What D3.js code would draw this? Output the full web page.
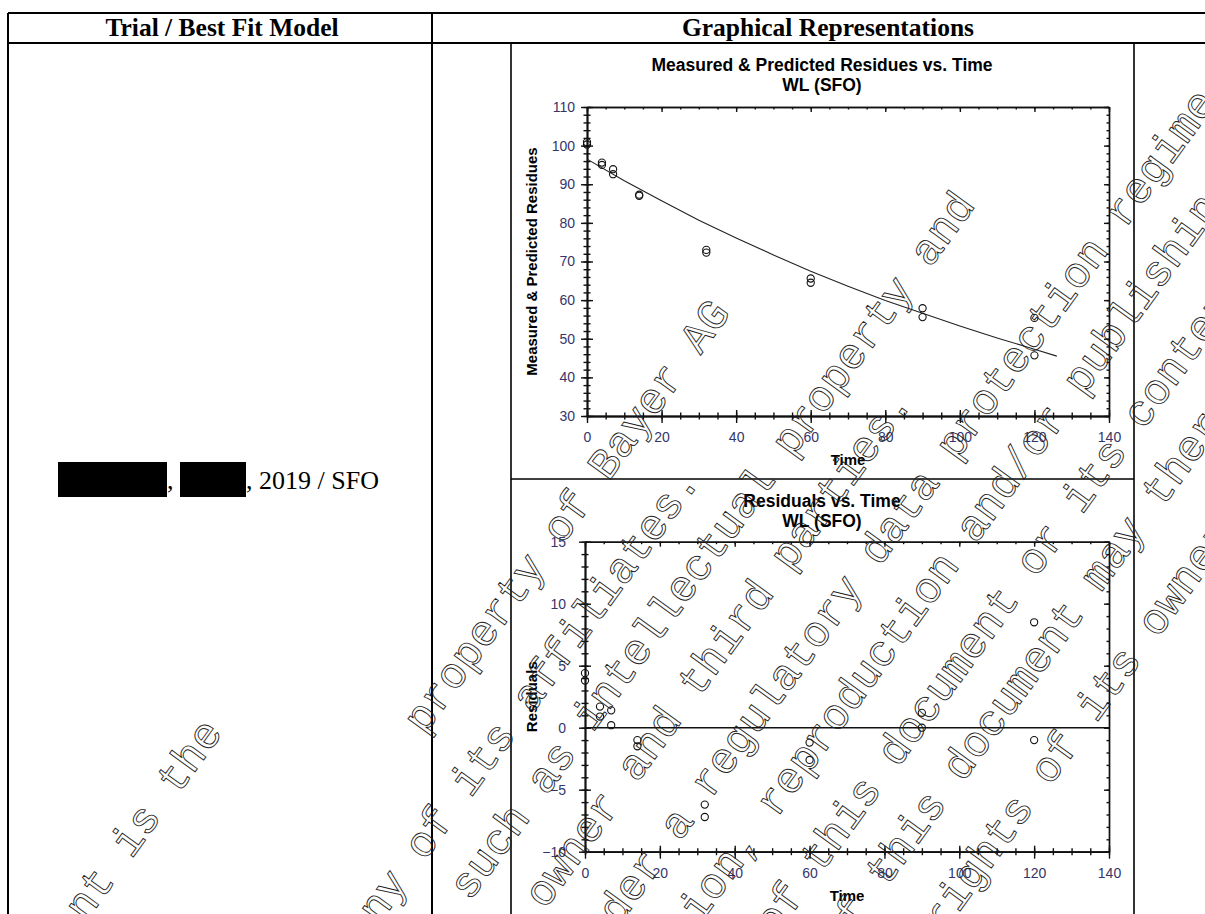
<!DOCTYPE html>
<html>
<head>
<meta charset="utf-8">
<script src="https://cdn.jsdelivr.net/npm/d3@7"></script>
<style>
body { margin: 0; background: #fff; }
svg { display: block; }
</style>
</head>
<body>
<div id="graph"></div>
<script>
// measured residues, two replicates per sampling time
const obsTime = [0, 0, 4, 4, 7, 7, 14, 14, 32, 32, 60, 60, 90, 90, 120, 120];
const obsResidue = [100.9, 100.3, 95.6, 95.0, 93.9, 92.6, 87.3, 87.0, 73.0, 72.3, 65.6, 64.5, 57.9, 55.6, 55.4, 45.7];

// SFO fit
const fitTime = [0, 10, 20, 30, 40, 50, 60, 70, 80, 90, 100, 110, 120, 126];
const fitResidue = [96.5, 90.9, 85.7, 80.7, 76.1, 71.7, 67.5, 63.6, 59.9, 56.6, 53.3, 50.2, 47.3, 45.5];

// residuals
const resTime = [0, 0, 4, 4, 7, 7, 14, 14, 32, 32, 60, 60, 90, 90, 120, 120];
const residual = [4.4, 3.8, 1.7, 0.9, 1.4, 0.2, -1.0, -1.5, -6.2, -7.2, -1.2, -2.6, 1.2, 0.0, 8.5, -1.0];

const xTicks = [0, 20, 40, 60, 80, 100, 120, 140];
const topYTicks = [30, 40, 50, 60, 70, 80, 90, 100, 110];
const botYTicks = [-10, -5, 0, 5, 10, 15];

const headers = ["Trial / Best Fit Model", "Graphical Representations"];
const trialText = ", 2019 / SFO";

// watermark lines (outlined), each anchored on the centre of one word
const wmLines = [
    { text: "This document is the", word: " is ", cx: 138, cy: 832 },
    { text: "property of Bayer AG", word: "Bayer", cx: 638, cy: 423 },
    { text: "and/or any of its affiliates.", word: "affiliates", cx: 600, cy: 602 },
    { text: "such as intellectual property and", word: "intellectual", cx: 676, cy: 600 },
    { text: "copy rights of the owner and third parties.", word: "third", cx: 728, cy: 640 },
    { text: "Furthermore, this document may fall under a regulatory data protection regime.", word: "protection", cx: 1024, cy: 350 },
    { text: "Consequently, any publication, distribution, reproduction and/or publishing", word: "and/or", cx: 1013, cy: 475 },
    { text: "and any commercial exploitation and use of this document or its contents", word: "or its", cx: 1073, cy: 509 },
    { text: "without the permission of the owner of this document may therefore", word: "may", cx: 1115, cy: 555 },
    { text: "be prohibited and violate the rights of its owner.", word: "rights", cx: 980, cy: 865 }
];

const W = 1205, H = 914;
const svg = d3.select("#graph").append("svg")
    .attr("width", W)
    .attr("height", H);

// ---- table ----
const tbl = svg.append("g");
const tableLines = [
    [8, 13, 1215, 13], [8, 43, 1215, 43],
    [8, 13, 8, 920], [432, 13, 432, 920]
];
tbl.selectAll("line").data(tableLines).enter().append("line")
    .attr("x1", d => d[0]).attr("y1", d => d[1])
    .attr("x2", d => d[2]).attr("y2", d => d[3])
    .style("stroke", "#000").style("stroke-width", 2);

tbl.selectAll("text.hdr").data(headers).enter().append("text")
    .attr("class", "hdr")
    .attr("x", (d, i) => i == 0 ? 222 : 828)
    .attr("y", 36)
    .attr("text-anchor", "middle")
    .style("font-family", "'Liberation Serif', 'Times New Roman', serif")
    .style("font-weight", "bold")
    .style("font-size", "25.5px")
    .text(d => d);

// redacted names
tbl.append("rect").attr("x", 58).attr("y", 462).attr("width", 109).attr("height", 35).style("fill", "#000");
tbl.append("text").attr("x", 167).attr("y", 489)
    .style("font-family", "'Liberation Serif', serif").style("font-size", "26px").text(",");
tbl.append("rect").attr("x", 180).attr("y", 462).attr("width", 66).attr("height", 35).style("fill", "#000");
tbl.append("text").attr("x", 246).attr("y", 489)
    .style("font-family", "'Liberation Serif', serif").style("font-size", "26px").text(trialText);

// picture frame in the right cell
const frame = svg.append("g");
frame.append("line").attr("x1", 511).attr("y1", 43).attr("x2", 511).attr("y2", 920);
frame.append("line").attr("x1", 1134).attr("y1", 43).attr("x2", 1134).attr("y2", 920);
frame.append("line").attr("x1", 511).attr("y1", 479).attr("x2", 1134).attr("y2", 479);
frame.selectAll("line").style("stroke", "#000").style("stroke-width", 1.6);

// ---- charts ----
function minorsOf(domain, step) {
    let out = [];
    for (let v = domain[0]; v <= domain[1] + 1e-9; v += step) out.push(+v.toFixed(4));
    return out;
}

function drawChart(o) {
    const g = svg.append("g");
    const x = d3.scaleLinear().domain([0, 140]).range([o.x0, o.x1]);
    const y = d3.scaleLinear().domain(o.yDomain).range([o.y0, o.y1]);
    const xMinor = minorsOf([0, 140], 5);
    const yMinor = minorsOf(o.yDomain, o.yMinorStep);

    function axisG(axis, tx, ty) {
        const a = g.append("g")
            .attr("transform", "translate(" + tx + "," + ty + ")")
            .call(axis);
        a.selectAll("path, line").style("stroke", "#111").style("stroke-width", 1.4);
        a.selectAll("text").remove();
        return a;
    }
    // bottom axis: ticks cross the line
    axisG(d3.axisBottom(x).tickValues(o.xTicks).tickSize(7).tickSizeOuter(0), 0, o.y0);
    axisG(d3.axisTop(x).tickValues(o.xTicks).tickSize(6).tickSizeOuter(0), 0, o.y0);
    axisG(d3.axisBottom(x).tickValues(xMinor).tickSize(3.5).tickSizeOuter(0), 0, o.y0);
    axisG(d3.axisTop(x).tickValues(xMinor).tickSize(3.5).tickSizeOuter(0), 0, o.y0);
    // left axis
    axisG(d3.axisLeft(y).tickValues(o.yTicks).tickSize(6).tickSizeOuter(0), o.x0, 0);
    axisG(d3.axisRight(y).tickValues(o.yTicks).tickSize(6).tickSizeOuter(0), o.x0, 0);
    axisG(d3.axisLeft(y).tickValues(yMinor).tickSize(3.5).tickSizeOuter(0), o.x0, 0);
    axisG(d3.axisRight(y).tickValues(yMinor).tickSize(3.5).tickSizeOuter(0), o.x0, 0);
    // top and right frame, ticks inside
    axisG(d3.axisBottom(x).tickValues(o.xTicks).tickSize(5).tickSizeOuter(0), 0, o.y1);
    axisG(d3.axisBottom(x).tickValues(xMinor).tickSize(2.5).tickSizeOuter(0), 0, o.y1);
    axisG(d3.axisLeft(y).tickValues(o.yTicks).tickSize(5).tickSizeOuter(0), o.x1, 0);
    axisG(d3.axisLeft(y).tickValues(yMinor).tickSize(2.5).tickSizeOuter(0), o.x1, 0);

    // tick labels
    const lx = g.append("g")
        .attr("transform", "translate(0," + o.y0 + ")")
        .call(d3.axisBottom(x).tickValues(o.xTicks).tickSize(0).tickPadding(16));
    const ly = g.append("g")
        .attr("transform", "translate(" + o.x0 + ",0)")
        .call(d3.axisLeft(y).tickValues(o.yTicks).tickSize(0).tickPadding(o.yPad));
    [lx, ly].forEach(a => {
        a.select(".domain").remove();
        a.selectAll("text")
            .style("font-family", "'Liberation Sans', Arial, sans-serif")
            .style("font-size", "14px")
            .style("fill", "#35356a");
    });

    // titles
    g.selectAll("text.title").data(o.title).enter().append("text")
        .attr("class", "title")
        .attr("x", 822)
        .attr("y", (d, i) => o.titleY + i * 20.5)
        .attr("text-anchor", "middle")
        .style("font-family", "'Liberation Sans', Arial, sans-serif")
        .style("font-weight", "bold")
        .style("font-size", "17.5px")
        .text(d => d);

    g.append("text")
        .attr("x", (o.x0 + o.x1) / 2)
        .attr("y", o.y0 + 49)
        .attr("text-anchor", "middle")
        .style("font-family", "'Liberation Sans', Arial, sans-serif")
        .style("font-weight", "bold")
        .style("font-size", "15px")
        .text("Time");

    g.append("text")
        .attr("transform", "translate(537," + (o.y0 + o.y1) / 2 + ") rotate(-90)")
        .attr("text-anchor", "middle")
        .style("font-family", "'Liberation Sans', Arial, sans-serif")
        .style("font-weight", "bold")
        .style("font-size", "15px")
        .text(o.yLabel);

    return { g: g, x: x, y: y };
}

const topChart = drawChart({
    x0: 587, x1: 1109, y0: 416, y1: 107,
    yDomain: [30, 110], yMinorStep: 2,
    xTicks: xTicks, yTicks: topYTicks, yPad: 12,
    title: ["Measured & Predicted Residues vs. Time", "WL (SFO)"], titleY: 70.5,
    yLabel: "Measured & Predicted Residues"
});

topChart.g.append("path")
    .datum(fitTime.map((t, i) => [t, fitResidue[i]]))
    .attr("d", d3.line().x(d => topChart.x(d[0])).y(d => topChart.y(d[1])))
    .style("fill", "none")
    .style("stroke", "#222")
    .style("stroke-width", 1.1);

topChart.g.selectAll("circle").data(obsTime).enter().append("circle")
    .attr("cx", d => topChart.x(d))
    .attr("cy", (d, i) => topChart.y(obsResidue[i]))
    .attr("r", 3.6)
    .style("fill", "none")
    .style("stroke", "#111")
    .style("stroke-width", 1.1);

const botChart = drawChart({
    x0: 585, x1: 1109, y0: 851.7, y1: 541.7,
    yDomain: [-10, 15], yMinorStep: 1,
    xTicks: xTicks, yTicks: botYTicks, yPad: 19,
    title: ["Residuals vs. Time", "WL (SFO)"], titleY: 506.5,
    yLabel: "Residuals"
});

botChart.g.append("line")
    .attr("x1", botChart.x(0)).attr("x2", botChart.x(140))
    .attr("y1", botChart.y(0)).attr("y2", botChart.y(0))
    .style("stroke", "#111")
    .style("stroke-width", 1.4);

botChart.g.selectAll("circle").data(resTime).enter().append("circle")
    .attr("cx", d => botChart.x(d))
    .attr("cy", (d, i) => botChart.y(residual[i]))
    .attr("r", 3.6)
    .style("fill", "none")
    .style("stroke", "#111")
    .style("stroke-width", 1.1);

// ---- watermark ----
const wmAngle = 54, wmSize = 43.5, wmAdv = wmSize * 0.6;
const rad = wmAngle * Math.PI / 180;
const dx = Math.cos(rad), dy = -Math.sin(rad);
const wm = svg.append("g");
wmLines.forEach(function (l) {
    const c = l.text.indexOf(l.word) + l.word.length / 2;
    const sx = l.cx - c * wmAdv * dx + 0.25 * wmSize * Math.sin(rad);
    const sy = l.cy - c * wmAdv * dy + 0.25 * wmSize * Math.cos(rad);
    wm.append("text")
        .attr("transform", "translate(" + sx + "," + sy + ") rotate(" + (-wmAngle) + ")")
        .style("font-family", "'Liberation Mono', 'Courier New', monospace")
        .style("font-size", wmSize + "px")
        .style("fill", "none")
        .style("stroke", "#222")
        .style("stroke-width", 0.9)
        .text(l.text);
});
</script>
</body>
</html>
